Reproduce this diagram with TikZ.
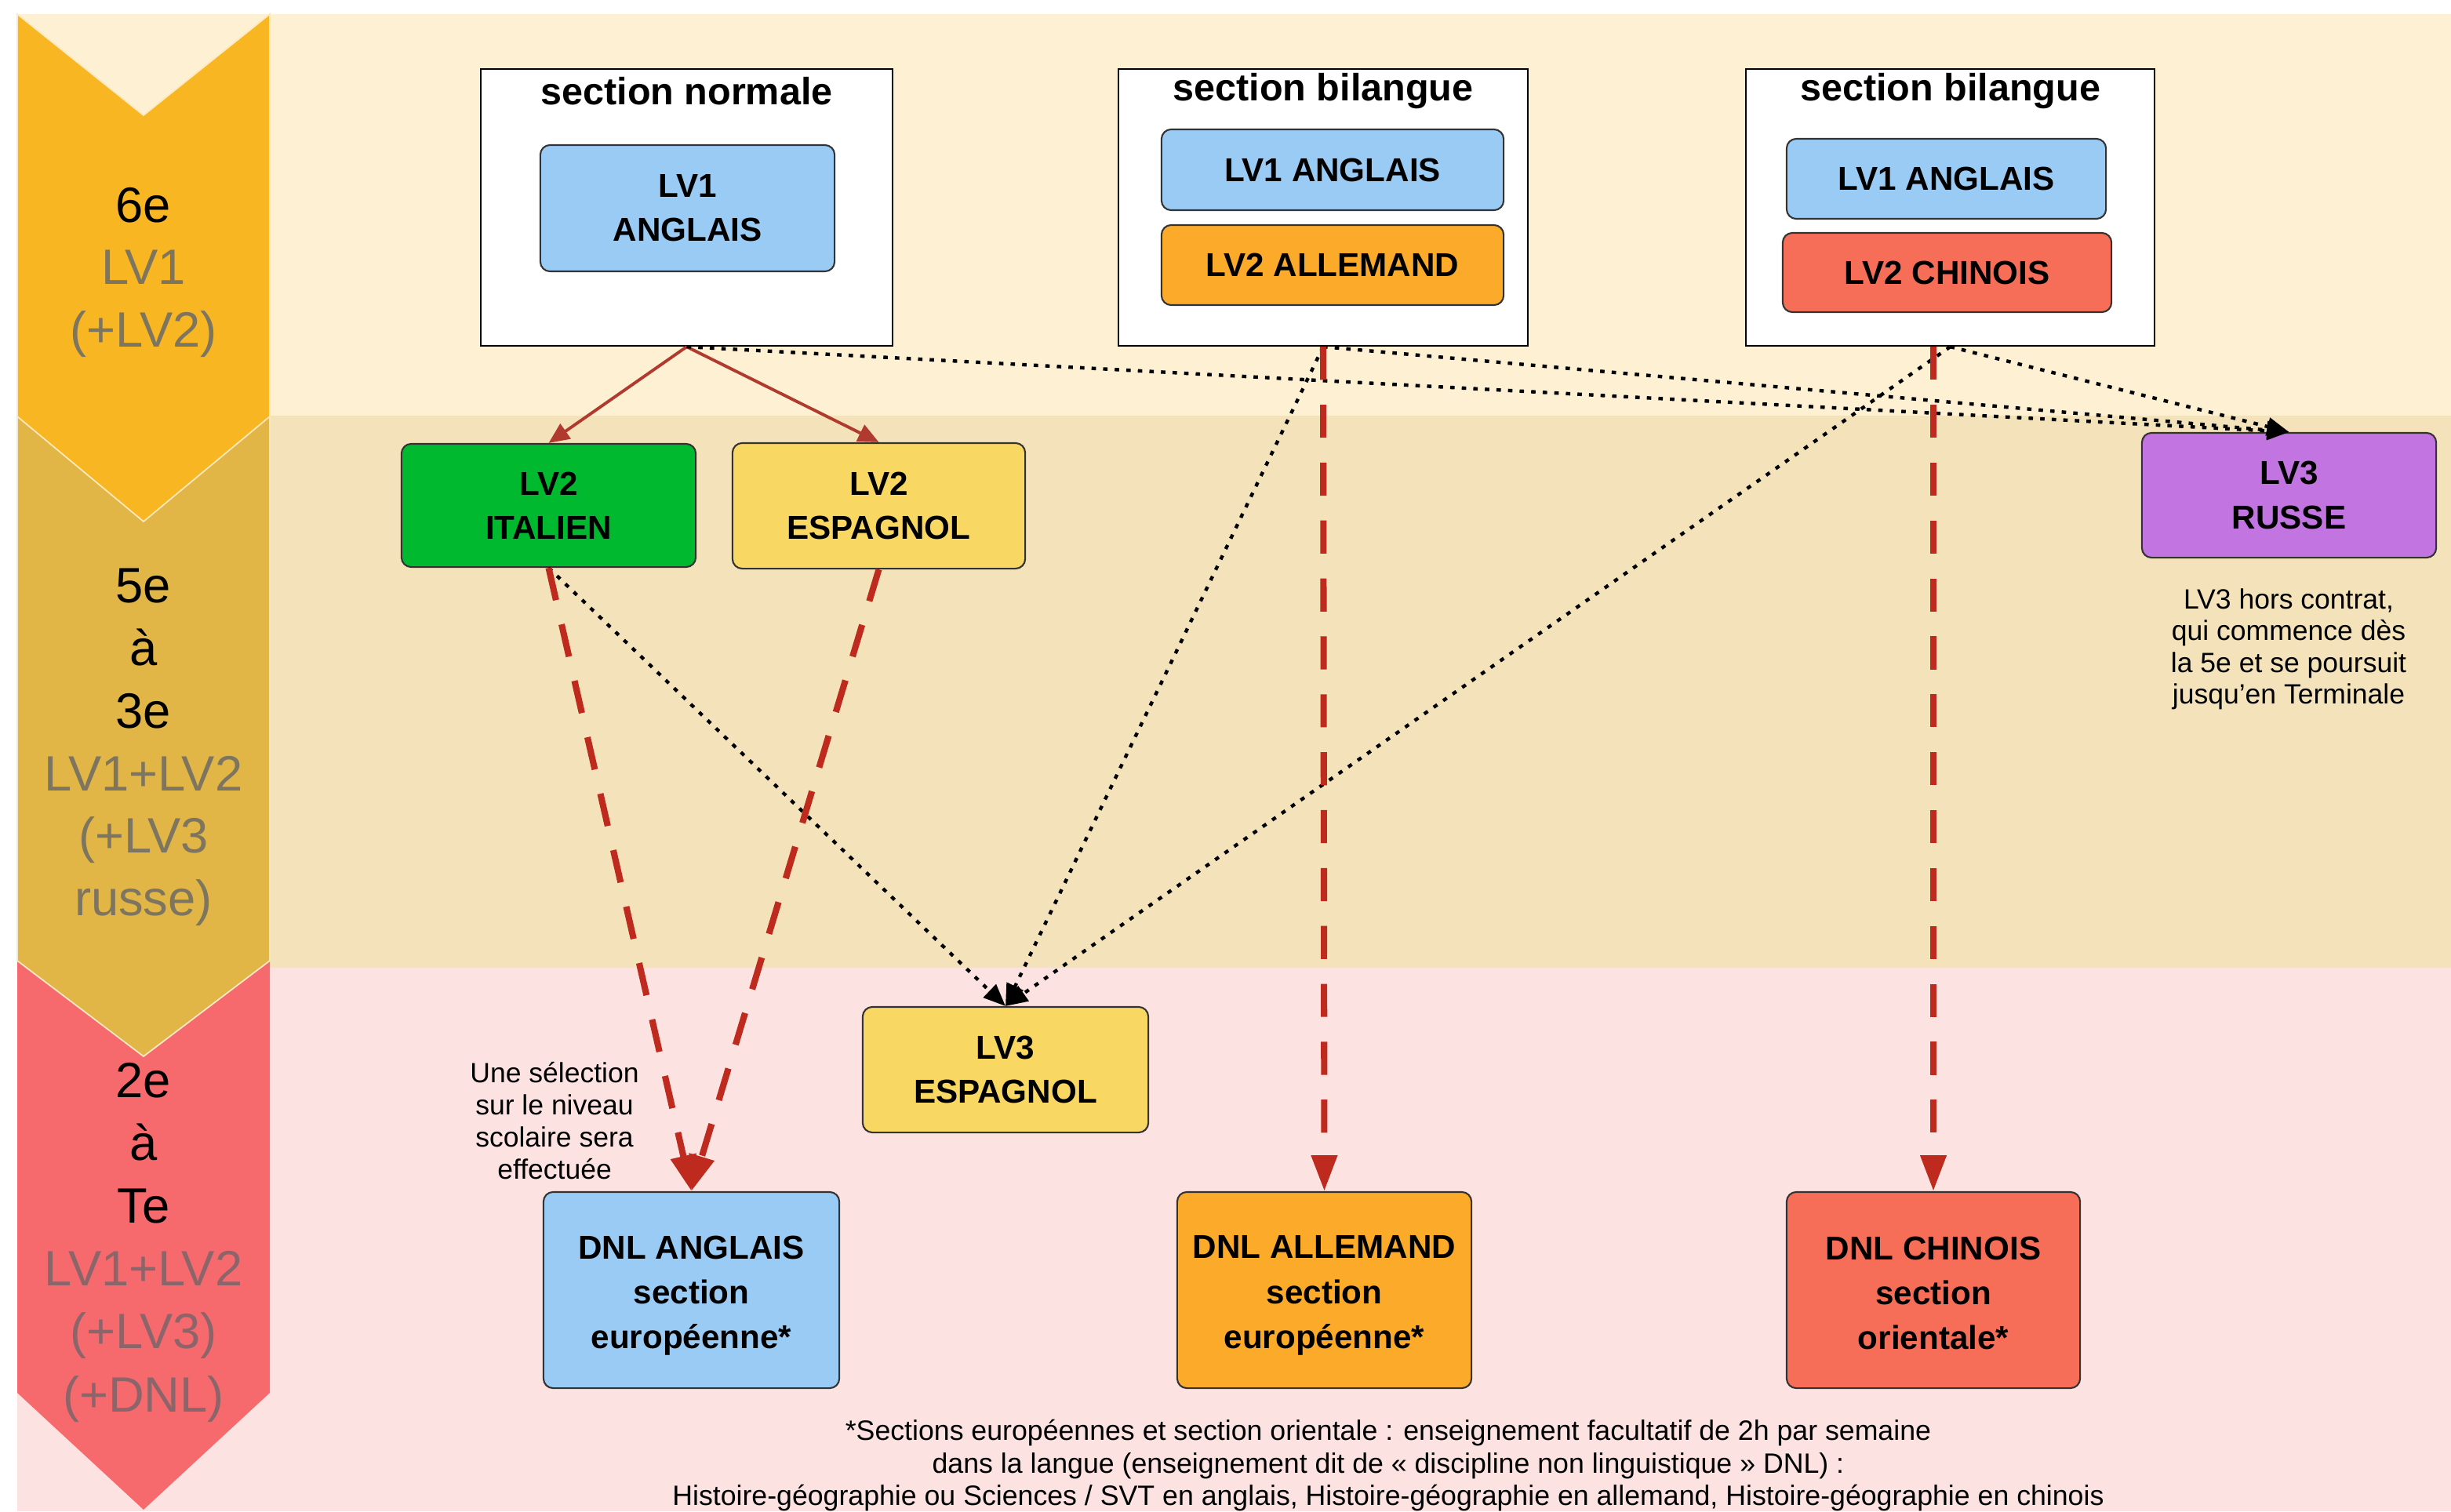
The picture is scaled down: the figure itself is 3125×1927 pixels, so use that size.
\documentclass[tikz,border=0pt]{standalone}
\usepackage{fontspec}
\setmainfont{Liberation Sans}
\usetikzlibrary{arrows.meta}
\definecolor{bandA}{HTML}{FDF0D3}
\definecolor{bandB}{HTML}{F4E3BA}
\definecolor{bandC}{HTML}{FDE2E2}
\definecolor{chevA}{HTML}{F8B722}
\definecolor{chevB}{HTML}{E1B646}
\definecolor{chevC}{HTML}{F66A6E}
\definecolor{greyA}{HTML}{7D7560}
\definecolor{greyC}{HTML}{8C656A}
\definecolor{lvblue}{HTML}{9ACBF5}
\definecolor{lvorange}{HTML}{FBAA2A}
\definecolor{lvcoral}{HTML}{F76E58}
\definecolor{lvgreen}{HTML}{00B92F}
\definecolor{lvyellow}{HTML}{F9D763}
\definecolor{lvpurple}{HTML}{C274E0}
\definecolor{arrowred}{HTML}{B03A2E}
\definecolor{dashred}{HTML}{BE2A1E}
\begin{document}
\begin{tikzpicture}[x=0.01cm,y=-0.01cm,
  lbox/.style={draw=black!80, line width=0.6pt, rounded corners=3.5pt, align=center, inner sep=0pt, font=\fontsize{12}{16}\selectfont\bfseries},
  dnltext/.style={align=center, inner sep=0pt, font=\fontsize{12}{16.3}\selectfont\bfseries, yshift=-2pt},
  secbox/.style={draw=black, line width=0.6pt, fill=white, inner sep=0pt},
  sectitle/.style={inner sep=0pt, font=\fontsize{13.8}{16}\selectfont\bfseries},
  chevtext/.style={align=center, inner sep=0pt},
  notetext/.style={align=center, inner sep=0pt, font=\fontsize{10.1}{11.5}\selectfont},
  redsolid/.style={draw=arrowred, line width=1.1pt, -{Triangle[length=7.5pt,width=6.5pt]}},
  reddash/.style={draw=dashred, line width=2.3pt, dash pattern=on 12pt off 9pt, -{Triangle[length=13pt,width=9pt]}},
  dotarrow/.style={draw=black, line width=1.25pt, dash pattern=on 1.6pt off 2.6pt, -{Triangle[length=8pt,width=6.5pt]}},
]
\useasboundingbox (0,0) rectangle (3125,1927);
\fill[white] (0,0) rectangle (3125,1927);
% bands
\fill[bandA] (22,18) rectangle (3125,530);
\fill[bandB] (22,530) rectangle (3125,1234);
\fill[bandC] (22,1234) rectangle (3125,1927);
% chevrons
\fill[chevC] (22,1225) -- (344,1225) -- (344,1776) -- (183,1925) -- (22,1776) -- cycle;
\filldraw[fill=chevB, draw=white!70!chevB, line width=0.5pt] (22,531) -- (344,531) -- (344,1225) -- (183,1347) -- (22,1225) -- cycle;
\filldraw[fill=chevA, draw=white!70!chevA, line width=0.5pt] (22,18) -- (183,147) -- (344,18) -- (344,531) -- (183,665) -- (22,531) -- cycle;
\node[chevtext, font=\fontsize{18}{22.6}\selectfont] (cA) at (183,347) {6e\\ \textcolor{greyA}{LV1}\\ \textcolor{greyA}{(+LV2)}};
\node[chevtext, font=\fontsize{18}{22.7}\selectfont] (cB) at (183,953) {5e\\ à\\ 3e\\ \textcolor{greyA}{LV1+LV2}\\ \textcolor{greyA}{(+LV3}\\ \textcolor{greyA}{russe)}};
\node[chevtext, font=\fontsize{18}{22.8}\selectfont] (cC) at (183,1584) {2e\\ à\\ Te\\ \textcolor{greyC}{LV1+LV2}\\ \textcolor{greyC}{(+LV3)}\\ \textcolor{greyC}{(+DNL)}};
% section boxes
\node[secbox, minimum width=5.25cm, minimum height=3.53cm] (normale) at (875.5,264.5) {};
\node[secbox, minimum width=5.22cm, minimum height=3.53cm] (bilA) at (1687,264.5) {};
\node[secbox, minimum width=5.21cm, minimum height=3.53cm] (bilB) at (2486.5,264.5) {};
\node[sectitle] (tN) at (875.5,116) {section normale};
\node[sectitle] (tA) at (1687,116) {section bilangue};
\node[sectitle] (tB) at (2486.5,116) {section bilangue};
\node[lbox, fill=lvblue, minimum width=3.75cm, minimum height=1.61cm] (nlv1) at (876.5,265.5) {LV1\\ANGLAIS};
\node[lbox, fill=lvblue, minimum width=4.36cm, minimum height=1.03cm] (alv1) at (1699,216.5) {LV1 ANGLAIS};
\node[lbox, fill=lvorange, minimum width=4.36cm, minimum height=1.02cm] (alv2) at (1699,338) {LV2 ALLEMAND};
\node[lbox, fill=lvblue, minimum width=4.07cm, minimum height=1.02cm] (blv1) at (2481.5,228) {LV1 ANGLAIS};
\node[lbox, fill=lvcoral, minimum width=4.19cm, minimum height=1.01cm] (blv2) at (2482.5,347.5) {LV2 CHINOIS};
% middle band
\node[lbox, fill=lvgreen, minimum width=3.75cm, minimum height=1.57cm] (ital) at (699.5,644.5) {LV2\\ITALIEN};
\node[lbox, fill=lvyellow, minimum width=3.73cm, minimum height=1.60cm] (espB) at (1120.5,645) {LV2\\ESPAGNOL};
\node[lbox, fill=lvpurple, minimum width=3.75cm, minimum height=1.59cm] (russe) at (2918.5,631.5) {LV3\\RUSSE};
\node[notetext] (rnote) at (2918,828) {LV3 hors contrat,\\qui commence dès\\la 5e et se poursuit\\jusqu’en Terminale};
% bottom band
\node[lbox, fill=lvyellow, minimum width=3.64cm, minimum height=1.60cm] (espC) at (1282,1364) {LV3\\ESPAGNOL};
\node[notetext, font=\fontsize{10.1}{11.7}\selectfont] (sel) at (707,1429) {Une sélection\\sur le niveau\\scolaire sera\\effectuée};
\node[lbox, fill=lvblue, minimum width=3.77cm, minimum height=2.50cm, label={[name=dnlAt, dnltext]center:DNL ANGLAIS\\section\\européenne*}] (dnlA) at (881.5,1645) {};
\node[lbox, fill=lvorange, minimum width=3.75cm, minimum height=2.50cm, label={[name=dnlBt, dnltext]center:DNL ALLEMAND\\section\\européenne*}] (dnlB) at (1688.5,1645) {};
\node[lbox, fill=lvcoral, minimum width=3.74cm, minimum height=2.50cm, label={[name=dnlCt, dnltext, yshift=0.9pt]center:DNL CHINOIS\\section\\orientale*}] (dnlC) at (2465,1645) {};
\node[notetext, font=\fontsize{10.15}{11.8}\selectfont] (foot) at (1770,1869) {*Sections européennes et section orientale : enseignement facultatif de 2h par semaine\\dans la langue (enseignement dit de « discipline non linguistique » DNL) :\\Histoire-géographie ou Sciences / SVT en anglais, Histoire-géographie en allemand, Histoire-géographie en chinois};
% connectors
\draw[redsolid] (normale.south) -- (ital.north);
\draw[redsolid] (normale.south) -- (espB.north);
\draw[dotarrow] (normale.south) -- (russe.north);
\draw[dotarrow] (bilA.south) -- (russe.north);
\draw[dotarrow] (bilB.south) -- (russe.north);
\draw[dotarrow] (bilA.south) -- (espC.north);
\draw[dotarrow] (bilB.south) -- (espC.north);
\draw[dotarrow] (ital.south) -- (espC.north);
\draw[reddash] (ital.south) -- (dnlA.north);
\draw[reddash] (espB.south) -- (dnlA.north);
\draw[reddash] (bilA.south) -- (dnlB.north);
\draw[reddash] (dnlC.north |- bilB.south) -- (dnlC.north);
\end{tikzpicture}
\end{document}
